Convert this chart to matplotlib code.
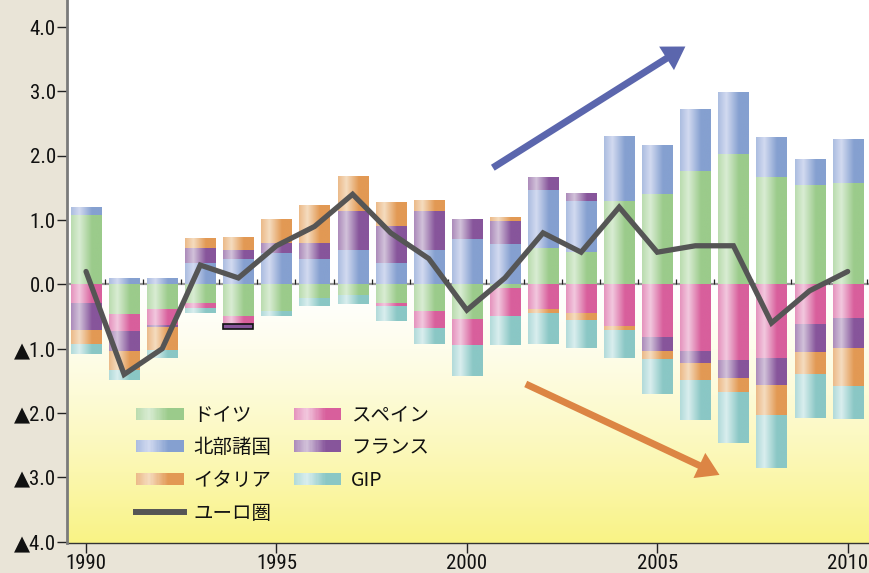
import numpy as np
import matplotlib
matplotlib.use("Agg")
import matplotlib.pyplot as plt
from matplotlib.patches import Rectangle
from matplotlib.legend_handler import HandlerBase
from matplotlib.lines import Line2D
from matplotlib.colors import to_rgb
from matplotlib import font_manager as fm

# ---------------- data ----------------
years = list(range(1990, 2011))
germany = [1.08, -0.46, -0.38, -0.29, -0.49, -0.42, -0.21, -0.17, -0.29, -0.42, -0.54,
           -0.06, 0.57, 0.50, 1.30, 1.40, 1.76, 2.03, 1.67, 1.54, 1.58]
north = [0.11, 0.08, 0.08, 0.33, 0.39, 0.49, 0.39, 0.53, 0.33, 0.53, 0.71,
         0.63, 0.90, 0.79, 1.00, 0.76, 0.95, 0.95, 0.61, 0.40, 0.67]
spain = [-0.29, -0.26, -0.26, -0.09, -0.12, 0.0, 0.0, 0.0, -0.06, -0.26, -0.40,
         -0.44, -0.38, -0.45, -0.65, -0.83, -1.05, -1.19, -1.16, -0.62, -0.52]
france = [-0.43, -0.31, -0.03, 0.23, 0.14, 0.16, 0.25, 0.61, 0.58, 0.61, 0.30,
          0.36, 0.20, 0.11, 0.0, -0.22, -0.19, -0.28, -0.42, -0.45, -0.48]
italy = [-0.22, -0.31, -0.37, 0.14, 0.20, 0.36, 0.59, 0.53, 0.36, 0.17, 0.0,
         0.06, -0.06, -0.12, -0.06, -0.11, -0.25, -0.22, -0.47, -0.33, -0.58]
gip = [-0.14, -0.15, -0.11, -0.07, 0.0, -0.07, -0.12, -0.13, -0.22, -0.24, -0.48,
       -0.45, -0.48, -0.42, -0.43, -0.54, -0.62, -0.78, -0.81, -0.67, -0.51]
euro = [0.2, -1.4, -1.0, 0.3, 0.1, 0.6, 0.9, 1.4, 0.8, 0.4, -0.4,
        0.1, 0.8, 0.5, 1.2, 0.5, 0.6, 0.6, -0.6, -0.1, 0.2]
# odd outlined France segment in 1994 (negative side)
outlined_year = 1994
outlined_value = -0.08

series_names = ["ドイツ", "北部諸国", "スペイン", "フランス", "イタリア", "GIP"]
series_vals = [germany, north, spain, france, italy, gip]
dark_cols = ["#9bcb8b", "#85a0d0", "#d85f9c", "#87559b", "#e29954", "#8ac7c5"]
light_cols = ["#d9ecd3", "#d2daf0", "#f2c8de", "#d2c2da", "#f5dcbf", "#d9eeee"]

y_ticks = [4, 3, 2, 1, 0, -1, -2, -3, -4]
x_ticks = [1990, 1995, 2000, 2005, 2010]

# ---------------- style ----------------
cjk = ["Noto Sans CJK JP", "DejaVu Sans"]
plt.rcParams["font.family"] = cjk

# narrow numeric font if available
avail = {f.name for f in fm.fontManager.ttflist}
num_family = None
for cand in ["Liberation Sans Narrow", "DejaVu Sans Condensed", "Roboto Condensed",
             "Open Sans Condensed"]:
    if cand in avail:
        num_family = cand
        break
num_stretch = "normal"
if num_family is None:
    num_family = "DejaVu Sans"
    num_stretch = "condensed"

fig = plt.figure(figsize=(8.69, 5.73), dpi=100, facecolor="#e9e4d7")
ax = fig.add_axes([67 / 869, 30 / 573, 802 / 869, 543 / 573])
xlim = (1989.50, 2010.56)
ylim = (-4.02, 4.42)


def grad_rgb(dark, light, n=64):
    t = np.linspace(0, 1, n)
    mix = np.interp(t, [0, 0.27, 0.68, 1.0], [0.5, 1.0, 0.0, 0.0])
    d = np.array(to_rgb(dark))
    l = np.array(to_rgb(light))
    return d[None, :] + (l - d)[None, :] * mix[:, None]


# background: white above zero, fading to yellow below
ny = 400
yy = np.linspace(ylim[1], ylim[0], ny)
m = np.clip(-yy / 4.0, 0, 1) ** 1.3
white = np.array([1.0, 1.0, 1.0])
yellow = np.array(to_rgb("#f9f386"))
bg = white[None, :] + (yellow - white)[None, :] * m[:, None]
bg_img = np.repeat(bg[:, None, :], 2, axis=1)
ax.imshow(bg_img, extent=[xlim[0], xlim[1], ylim[0], ylim[1]], aspect="auto",
          zorder=0, interpolation="bilinear")

# zero line and half-year ticks
ax.axhline(0, color="#9a9a9a", lw=1.6, zorder=1)
half = np.array(years) + 0.5
ax.vlines(half, 0, 0.085, color="#222222", lw=0.9, zorder=1)

# stacked bars
width = 0.79
pos_base = np.zeros(len(years))
neg_base = np.zeros(len(years))
for name, vals, dc, lc in zip(series_names, series_vals, dark_cols, light_cols):
    v = np.array(vals, dtype=float)
    bottoms = np.where(v >= 0, pos_base, neg_base)
    bars = ax.bar(years, v, width=width, bottom=bottoms, color=dc, zorder=2,
                  linewidth=0)
    g = grad_rgb(dc, lc)[None, :, :]
    for p in bars:
        h = p.get_height()
        if abs(h) < 1e-9:
            continue
        x0 = p.get_x()
        y0 = p.get_y()
        ax.imshow(g, extent=[x0, x0 + p.get_width(), min(y0, y0 + h), max(y0, y0 + h)],
                  aspect="auto", zorder=2.1, interpolation="bilinear")
    pos_base = pos_base + np.where(v > 0, v, 0)
    neg_base = neg_base + np.where(v < 0, v, 0)
    if name == "フランス":
        i = years.index(outlined_year)
        ax.bar(outlined_year, outlined_value, width=width, bottom=neg_base[i],
               color=dc, edgecolor="#111111", linewidth=1.2, zorder=2.2)
        neg_base[i] += outlined_value

# euro line
ax.plot(years, euro, color="#555555", lw=3.8, zorder=3, solid_capstyle="round",
        solid_joinstyle="miter")

# arrows
ax.annotate("", xy=(2005.80, 3.72), xytext=(2000.62, 1.79),
            arrowprops=dict(arrowstyle="simple,head_length=0.8,head_width=1.0,tail_width=0.25",
                            mutation_scale=20, color="#5b66ad", lw=0),
            zorder=4)
ax.annotate("", xy=(2006.70, -2.98), xytext=(2001.48, -1.53),
            arrowprops=dict(arrowstyle="simple,head_length=0.8,head_width=1.0,tail_width=0.25",
                            mutation_scale=20, color="#dc8544", lw=0),
            zorder=4)

ax.set_xlim(*xlim)
ax.set_ylim(*ylim)

# axes styling
for s in ["top", "right"]:
    ax.spines[s].set_visible(False)
ax.spines["left"].set_color("#7a7a7a")
ax.spines["left"].set_linewidth(2.0)
ax.spines["left"].set_zorder(5)
ax.spines["bottom"].set_color("#333333")
ax.spines["bottom"].set_linewidth(1.0)

ax.set_yticks(y_ticks)
ax.set_yticklabels([f"{v:.1f}" if v >= 0 else "▲" + f"{abs(v):.1f}" for v in y_ticks])
ax.set_xticks(x_ticks)
ax.set_xticklabels([str(v) for v in x_ticks])
ax.tick_params(axis="y", direction="out", length=7, width=1, color="#222222", pad=1,
               labelsize=15)
ax.tick_params(axis="x", direction="out", length=7, width=1, color="#222222", pad=1,
               labelsize=15)
for lab in ax.get_yticklabels() + ax.get_xticklabels():
    lab.set_family([num_family, "DejaVu Sans"])
    lab.set_stretch(num_stretch)
    lab.set_color("#111111")


# legend with gradient handles
class GradHandle:
    def __init__(self, dark, light):
        self.dark = dark
        self.light = light


class GradHandler(HandlerBase):
    def create_artists(self, legend, orig_handle, xdescent, ydescent, width, height,
                       fontsize, trans):
        n = 40
        cols = grad_rgb(orig_handle.dark, orig_handle.light, n)
        hh = 12 * 72 / 100.0
        y0 = -ydescent + (height - hh) / 2
        arts = []
        for k in range(n):
            r = Rectangle((-xdescent + width * k / n, y0), width / n * 1.05, hh,
                          facecolor=cols[k], edgecolor="none", transform=trans)
            arts.append(r)
        return arts


handles = []
labels = []
for k in [0, 1, 4]:
    handles.append(GradHandle(dark_cols[k], light_cols[k]))
    labels.append(series_names[k])
handles.append(Line2D([], [], color="#555555", lw=4.3))
labels.append("ユーロ圏")
for k in [2, 3, 5]:
    handles.append(GradHandle(dark_cols[k], light_cols[k]))
    labels.append(series_names[k])

leg = ax.legend(handles, labels, handler_map={GradHandle: GradHandler()}, ncol=2,
                loc="upper left", bbox_to_anchor=(0.086, 0.255), frameon=False,
                fontsize=14, handlelength=2.45, handletextpad=0.5, columnspacing=1.15,
                labelspacing=0.6, borderpad=0, borderaxespad=0)
for t in leg.get_texts():
    t.set_color("#111111")

fig.savefig("out.png", dpi=100, facecolor=fig.get_facecolor())
